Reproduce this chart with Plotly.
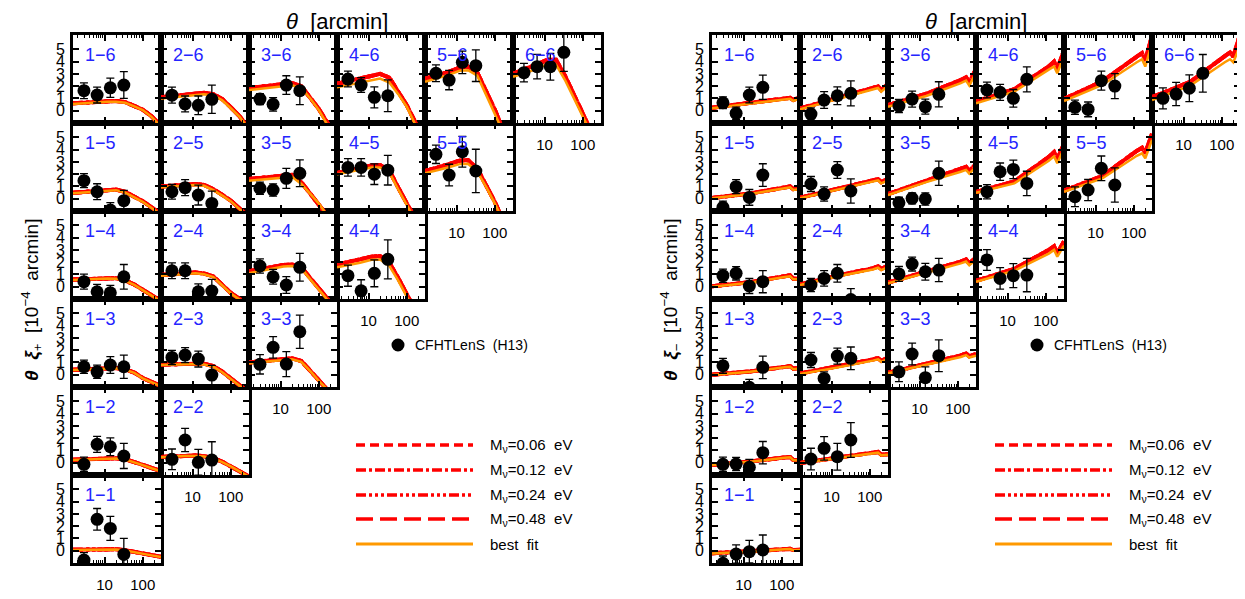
import math
import plotly.graph_objects as go

# ---------------- data ----------------
THETA_DATA = [2.9, 6.4, 14.2, 32.0]                      # arcmin
THETA_XIP_MODEL = [1.5, 3, 6, 12, 20, 35, 60, 100, 170, 300]
THETA_XIM_MODEL = [1.5, 15, 120, 165, 200, 300]
Y_TICKS = [0, 1, 2, 3, 4, 5]
X_TICKS = [10, 100]
X_MINOR = [2, 3, 4, 5, 6, 7, 8, 9, 20, 30, 40, 50, 60, 70, 80, 90, 200, 300]
MNU_LABELS = ["M<sub>ν</sub>=0.06  eV", "M<sub>ν</sub>=0.12  eV",
              "M<sub>ν</sub>=0.24  eV", "M<sub>ν</sub>=0.48  eV", "best  fit"]
DATA_LABEL = "CFHTLenS  (H13)"

XIP_DATA = {
    "1-6": [1.63, 1.28, 1.87, 2.09], "2-6": [1.27, 0.55, 0.44, 0.93],
    "3-6": [0.95, 0.52, 2.09, 1.63], "4-6": [2.58, 2.09, 1.09, 1.22],
    "5-6": [3.05, 2.50, 3.94, 3.67], "6-6": [3.10, 3.59, 3.59, 4.76],
    "1-5": [1.47, 0.57, -0.92, -0.16], "2-5": [0.57, 0.90, 0.30, -0.38],
    "3-5": [0.85, 0.71, 1.66, 2.07], "4-5": [2.55, 2.55, 2.00, 2.33],
    "5-5": [3.62, 1.93, 3.83, 2.26],
    "1-4": [0.41, -0.41, -0.49, 0.81], "2-4": [1.30, 1.30, -0.41, -0.35],
    "3-4": [1.69, 0.81, 0.14, 1.58], "4-4": [0.90, -0.33, 1.09, 2.23],
    "1-3": [0.65, 0.24, 0.79, 0.65], "2-3": [1.41, 1.60, 1.28, -0.03],
    "3-3": [0.85, 2.23, 0.87, 3.50],
    "1-2": [-0.13, 1.50, 1.30, 0.55], "2-2": [0.28, 1.85, 0.03, 0.22],
    "1-1": [-0.76, 2.56, 1.82, -0.30],
}
XIP_ERR = {
    "1-6": [0.64, 0.65, 0.79, 1.09], "2-6": [0.65, 0.65, 0.76, 1.15],
    "3-6": [0.45, 0.55, 0.76, 1.13], "4-6": [0.64, 0.60, 0.86, 1.29],
    "5-6": [0.68, 0.79, 0.92, 1.29], "6-6": [0.75, 1.00, 1.09, 1.56],
    "1-5": [0.57, 0.65, 0.60, 0.84], "2-5": [0.60, 0.65, 0.81, 1.00],
    "3-5": [0.50, 0.50, 0.81, 1.09], "4-5": [0.71, 0.71, 0.84, 1.21],
    "5-5": [0.75, 0.88, 1.25, 1.77],
    "1-4": [0.61, 0.60, 0.60, 1.00], "2-4": [0.64, 0.64, 0.65, 0.95],
    "3-4": [0.58, 0.60, 0.68, 1.13], "4-4": [0.86, 0.90, 1.09, 1.59],
    "1-3": [0.54, 0.54, 0.68, 0.95], "2-3": [0.58, 0.61, 0.65, 0.80],
    "3-3": [0.79, 0.88, 1.02, 1.36],
    "1-2": [0.58, 0.65, 0.72, 1.02], "2-2": [0.84, 0.95, 1.05, 1.49],
    "1-1": [0.60, 0.88, 0.98, 1.30],
}
XIP_FIT = {
    "1-6": [0.55, 0.62, 0.70, 0.74, 0.74, 0.65, 0.35, 0.05, -0.50, -1.30],
    "2-6": [1.00, 1.10, 1.22, 1.30, 1.34, 1.25, 0.85, 0.20, -0.50, -1.50],
    "3-6": [1.69, 1.80, 1.90, 2.00, 2.08, 1.85, 1.00, 0.06, -1.10, -2.50],
    "4-6": [1.91, 2.10, 2.30, 2.50, 2.62, 2.30, 1.35, 0.33, -1.10, -2.80],
    "5-6": [2.36, 2.60, 2.90, 3.25, 3.30, 2.85, 1.30, -0.05, -1.80, -3.50],
    "6-6": [2.77, 3.05, 3.40, 3.80, 3.75, 2.45, 0.95, -0.35, -2.00, -3.50],
    "1-5": [0.44, 0.52, 0.62, 0.70, 0.70, 0.50, 0.15, -0.25, -0.75, -1.30],
    "2-5": [0.93, 1.00, 1.07, 1.12, 1.05, 0.70, 0.25, -0.20, -0.85, -1.50],
    "3-5": [1.47, 1.55, 1.65, 1.75, 1.78, 1.20, 0.40, -0.38, -1.40, -2.50],
    "4-5": [2.00, 2.20, 2.40, 2.55, 2.55, 2.15, 0.75, -0.50, -1.90, -3.20],
    "5-5": [2.08, 2.30, 2.55, 2.82, 2.85, 2.20, 0.95, -0.38, -2.00, -3.50],
    "1-4": [0.55, 0.60, 0.65, 0.68, 0.66, 0.47, 0.15, -0.27, -0.70, -1.20],
    "2-4": [0.90, 0.97, 1.04, 1.09, 1.02, 0.78, 0.10, -0.55, -1.05, -1.60],
    "3-4": [1.10, 1.30, 1.50, 1.65, 1.68, 1.50, 0.60, -0.25, -1.10, -2.00],
    "4-4": [1.58, 1.75, 1.95, 2.20, 2.22, 1.70, 0.50, -0.80, -2.20, -3.50],
    "1-3": [0.38, 0.43, 0.48, 0.52, 0.52, 0.40, 0.15, -0.30, -0.60, -0.95],
    "2-3": [0.79, 0.82, 0.85, 0.87, 0.84, 0.65, 0.20, -0.35, -0.95, -1.50],
    "3-3": [0.93, 1.03, 1.13, 1.22, 1.25, 1.05, 0.30, -0.50, -1.30, -2.00],
    "1-2": [0.22, 0.27, 0.31, 0.35, 0.35, 0.26, 0.05, -0.19, -0.45, -0.70],
    "2-2": [0.44, 0.50, 0.54, 0.55, 0.50, 0.35, 0.05, -0.30, -0.70, -1.15],
    "1-1": [0.06, 0.08, 0.10, 0.11, 0.10, 0.02, -0.10, -0.22, -0.38, -0.52],
}
XIP_MNU = {
    "1-6": [0.60, 0.67, 0.75, 0.80, 0.80, 0.70, 0.40, 0.08, -0.45, -1.25],
    "2-6": [1.10, 1.20, 1.32, 1.42, 1.46, 1.35, 0.95, 0.28, -0.45, -1.45],
    "3-6": [1.85, 1.95, 2.05, 2.15, 2.25, 2.00, 1.10, 0.15, -1.00, -2.40],
    "4-6": [2.20, 2.40, 2.60, 2.85, 3.00, 2.70, 1.60, 0.45, -1.00, -2.70],
    "5-6": [2.60, 2.85, 3.15, 3.50, 3.60, 3.10, 1.50, 0.10, -1.70, -3.40],
    "6-6": [3.00, 3.35, 3.75, 4.15, 4.15, 2.80, 1.20, -0.20, -1.90, -3.40],
    "1-5": [0.48, 0.56, 0.66, 0.75, 0.75, 0.55, 0.20, -0.20, -0.70, -1.25],
    "2-5": [1.00, 1.08, 1.15, 1.20, 1.13, 0.78, 0.32, -0.15, -0.80, -1.45],
    "3-5": [1.60, 1.70, 1.80, 1.90, 1.95, 1.35, 0.50, -0.30, -1.30, -2.40],
    "4-5": [2.10, 2.30, 2.50, 2.70, 2.75, 2.30, 0.90, -0.40, -1.80, -3.10],
    "5-5": [2.25, 2.50, 2.80, 3.10, 3.15, 2.45, 1.10, -0.25, -1.90, -3.40],
    "1-4": [0.58, 0.63, 0.69, 0.72, 0.70, 0.50, 0.18, -0.24, -0.67, -1.17],
    "2-4": [0.95, 1.02, 1.10, 1.15, 1.08, 0.84, 0.15, -0.50, -1.00, -1.55],
    "3-4": [1.25, 1.45, 1.62, 1.78, 1.80, 1.60, 0.70, -0.15, -1.00, -1.90],
    "4-4": [1.80, 2.00, 2.20, 2.45, 2.50, 1.95, 0.70, -0.65, -2.10, -3.40],
    "1-3": [0.40, 0.45, 0.50, 0.55, 0.55, 0.43, 0.18, -0.27, -0.57, -0.92],
    "2-3": [0.84, 0.87, 0.90, 0.93, 0.90, 0.70, 0.25, -0.30, -0.90, -1.45],
    "3-3": [1.00, 1.10, 1.20, 1.30, 1.33, 1.12, 0.37, -0.44, -1.25, -1.95],
    "1-2": [0.24, 0.29, 0.33, 0.37, 0.37, 0.28, 0.07, -0.17, -0.43, -0.68],
    "2-2": [0.47, 0.53, 0.57, 0.58, 0.53, 0.38, 0.08, -0.27, -0.67, -1.12],
    "1-1": [0.08, 0.10, 0.12, 0.13, 0.12, 0.04, -0.08, -0.20, -0.36, -0.50],
}

XIM_DATA = {
    "1-6": [0.65, -0.21, 1.28, 1.91], "2-6": [-0.27, 0.87, 1.22, 1.42],
    "3-6": [0.38, 0.95, 0.33, 1.34], "4-6": [1.69, 1.50, 1.01, 2.56],
    "5-6": [0.28, 0.11, 2.45, 2.01], "6-6": [1.01, 1.36, 1.83, 3.05],
    "1-5": [-0.70, 0.98, 0.11, 1.93], "2-5": [1.20, 0.38, 2.34, 0.63],
    "3-5": [-0.33, 0.03, -0.02, 2.07], "4-5": [0.57, 2.20, 2.39, 1.25],
    "5-5": [0.16, 0.71, 2.48, 1.12],
    "1-4": [0.90, 1.09, 0.06, 0.41], "2-4": [0.14, 0.68, 1.09, -1.05],
    "3-4": [1.04, 1.85, 1.22, 1.36], "4-4": [2.18, 0.68, 0.90, 0.95],
    "1-3": [0.73, -1.55, -1.03, 0.60], "2-3": [1.20, -0.30, 1.52, 1.34],
    "3-3": [0.24, 1.69, -0.24, 1.55],
    "1-2": [-0.13, -0.11, -0.37, 0.82], "2-2": [0.30, 1.17, 0.49, 1.85],
    "1-1": [-1.03, -0.27, -0.08, 0.06],
}
XIM_ERR = {
    "1-6": [0.48, 0.50, 0.64, 0.99], "2-6": [0.50, 0.68, 0.72, 1.02],
    "3-6": [0.54, 0.65, 0.61, 1.02], "4-6": [0.64, 0.65, 0.72, 1.02],
    "5-6": [0.58, 0.60, 0.77, 1.02], "6-6": [0.86, 0.95, 1.09, 1.53],
    "1-5": [0.50, 0.57, 0.64, 0.92], "2-5": [0.61, 0.58, 0.68, 0.99],
    "3-5": [0.45, 0.45, 0.50, 0.99], "4-5": [0.58, 0.71, 0.75, 0.99],
    "5-5": [0.81, 0.87, 1.00, 1.40],
    "1-4": [0.54, 0.54, 0.61, 0.90], "2-4": [0.54, 0.63, 0.72, 0.90],
    "3-4": [0.61, 0.57, 0.68, 0.95], "4-4": [0.84, 0.88, 0.98, 1.36],
    "1-3": [0.61, 0.62, 0.65, 0.91], "2-3": [0.61, 0.54, 0.65, 0.92],
    "3-3": [0.81, 0.88, 0.88, 1.29],
    "1-2": [0.58, 0.54, 0.64, 0.91], "2-2": [0.88, 0.95, 1.09, 1.41],
    "1-1": [0.60, 0.75, 0.92, 1.22],
}
XIM_FIT = {
    "1-6": [0.20, 0.60, 0.93, 0.97, 0.80, 1.00],
    "2-6": [0.11, 0.95, 1.70, 1.85, 1.55, 2.05],
    "3-6": [0.33, 1.20, 2.25, 2.45, 2.05, 3.10],
    "4-6": [0.60, 1.55, 3.35, 3.60, 3.05, 4.46],
    "5-6": [0.79, 2.10, 3.95, 4.20, 3.60, 5.50],
    "6-6": [0.87, 2.05, 3.95, 4.20, 3.95, 5.30],
    "1-5": [0.03, 0.38, 0.85, 0.93, 0.72, 0.80],
    "2-5": [0.03, 0.75, 1.35, 1.50, 1.25, 1.50],
    "3-5": [0.30, 1.35, 2.20, 2.35, 2.05, 2.60],
    "4-5": [0.49, 1.25, 3.10, 3.45, 2.90, 4.10],
    "5-5": [0.57, 1.65, 3.50, 3.70, 3.30, 4.80],
    "1-4": [0.00, 0.33, 0.80, 0.85, 0.60, 0.60],
    "2-4": [0.14, 0.85, 1.40, 1.55, 1.35, 1.60],
    "3-4": [0.27, 1.10, 1.90, 2.05, 1.75, 2.20],
    "4-4": [0.41, 1.30, 2.70, 3.00, 2.45, 3.35],
    "1-3": [-0.02, 0.24, 0.60, 0.65, 0.45, 0.50],
    "2-3": [0.06, 0.60, 1.15, 1.25, 1.05, 1.30],
    "3-3": [0.11, 0.80, 1.45, 1.60, 1.40, 1.55],
    "1-2": [-0.19, 0.08, 0.40, 0.44, 0.20, 0.20],
    "2-2": [-0.05, 0.36, 0.75, 0.82, 0.60, 0.65],
    "1-1": [-0.22, -0.08, 0.12, 0.14, 0.04, 0.06],
}
XIM_MNU = {
    "1-6": [0.25, 0.66, 1.00, 1.05, 0.88, 1.08],
    "2-6": [0.18, 1.03, 1.82, 1.98, 1.68, 2.20],
    "3-6": [0.45, 1.38, 2.50, 2.72, 2.30, 3.40],
    "4-6": [0.75, 1.75, 3.60, 4.00, 3.40, 4.90],
    "5-6": [0.95, 2.40, 4.40, 4.70, 4.10, 6.10],
    "6-6": [1.10, 2.35, 4.45, 4.75, 4.40, 6.20],
    "1-5": [0.06, 0.43, 0.92, 1.00, 0.78, 0.86],
    "2-5": [0.08, 0.82, 1.45, 1.60, 1.35, 1.62],
    "3-5": [0.38, 1.47, 2.40, 2.60, 2.25, 2.85],
    "4-5": [0.55, 1.40, 3.40, 3.80, 3.20, 4.50],
    "5-5": [0.65, 1.85, 3.90, 4.15, 3.70, 5.30],
    "1-4": [0.03, 0.37, 0.86, 0.92, 0.66, 0.66],
    "2-4": [0.18, 0.92, 1.50, 1.66, 1.45, 1.72],
    "3-4": [0.33, 1.20, 2.05, 2.22, 1.90, 2.40],
    "4-4": [0.48, 1.45, 3.00, 3.30, 2.70, 3.70],
    "1-3": [0.00, 0.27, 0.64, 0.70, 0.50, 0.55],
    "2-3": [0.10, 0.66, 1.24, 1.35, 1.13, 1.40],
    "3-3": [0.15, 0.88, 1.57, 1.73, 1.50, 1.70],
    "1-2": [-0.17, 0.10, 0.43, 0.47, 0.23, 0.23],
    "2-2": [-0.02, 0.40, 0.80, 0.88, 0.65, 0.70],
    "1-1": [-0.21, -0.07, 0.13, 0.15, 0.05, 0.07],
}

# ---------------- layout / style ----------------
PAGE_W, PAGE_H = 1245, 599
BODY_MARGIN = 8                      # default page margin around the plot div
FW, FH = PAGE_W - BODY_MARGIN, PAGE_H - BODY_MARGIN
FONT = "Liberation Sans, Arial, sans-serif"
RED = "#ff0000"
ORANGE = "#ff9900"
BLUE = "#2424ff"
RED_DASHES = ["9px,5px", "10px,3px,3px,3px",
              "10px,3px,3px,3px,3px,3px,3px,3px", "17px,7px"]
PANEL = 88
TOP = 35
GRID_LEFT = [73, 712]
Y_RANGE = [-1.0, 6.17]
X_RANGE = [math.log10(1.5), math.log10(300)]


def px(x):
    """page pixel x -> paper coordinate"""
    return min(1.0, max(0.0, (x - BODY_MARGIN) / FW))


def py(y):
    """page pixel y -> paper coordinate"""
    return min(1.0, max(0.0, 1 - (y - BODY_MARGIN) / FH))


fig = go.Figure()
layout = {}
annotations = []
shapes = []

grids = [
    (GRID_LEFT[0], XIP_DATA, XIP_ERR, XIP_FIT, XIP_MNU, THETA_XIP_MODEL),
    (GRID_LEFT[1], XIM_DATA, XIM_ERR, XIM_FIT, XIM_MNU, THETA_XIM_MODEL),
]

n = 0
for (gleft, dat, err, fit, mnu, thm) in grids:
    for j in range(1, 7):
        for i in range(1, j + 1):
            n += 1
            key = f"{i}-{j}"
            c = i - 1
            r = 6 - j
            x0 = gleft + PANEL * c
            y0 = TOP + PANEL * r
            xref = "x" if n == 1 else f"x{n}"
            yref = "y" if n == 1 else f"y{n}"
            xname = "xaxis" if n == 1 else f"xaxis{n}"
            yname = "yaxis" if n == 1 else f"yaxis{n}"

            for k, dash in enumerate(RED_DASHES):
                fig.add_trace(go.Scatter(
                    x=thm, y=mnu[key], mode="lines", xaxis=xref, yaxis=yref,
                    line=dict(color=RED, width=4, dash=dash),
                    showlegend=False, hoverinfo="skip"))
            fig.add_trace(go.Scatter(
                x=thm, y=fit[key], mode="lines", xaxis=xref, yaxis=yref,
                line=dict(color=ORANGE, width=2.5),
                showlegend=False, hoverinfo="skip"))
            fig.add_trace(go.Scatter(
                x=THETA_DATA, y=dat[key], mode="markers",
                xaxis=xref, yaxis=yref,
                marker=dict(color="black", size=13),
                error_y=dict(type="data", array=err[key], color="black",
                             thickness=1.3, width=4),
                showlegend=False))

            layout[xname] = dict(
                type="log", range=X_RANGE, anchor=yref,
                domain=[px(x0), px(x0 + PANEL)],
                showline=True, linecolor="black", linewidth=3,
                mirror="allticks", ticks="inside", ticklen=6, tickwidth=1.5,
                tickcolor="black", tickmode="array", tickvals=X_TICKS,
                ticktext=[str(v) for v in X_TICKS],
                showticklabels=(i == j), ticklabelstandoff=6,
                tickfont=dict(family=FONT, size=15, color="black"),
                showgrid=False, zeroline=False,
                minor=dict(ticks="inside", ticklen=3, tickwidth=1.2,
                           tickcolor="black", tickmode="array",
                           tickvals=X_MINOR, showgrid=False),
            )
            layout[yname] = dict(
                range=Y_RANGE, anchor=xref,
                domain=[py(y0 + PANEL), py(y0)],
                showline=True, linecolor="black", linewidth=3,
                mirror="allticks", ticks="inside", ticklen=6, tickwidth=1.5,
                tickcolor="black", tickmode="array", tickvals=Y_TICKS,
                ticktext=[str(v) for v in Y_TICKS],
                showticklabels=(c == 0), tickangle=0,
                ticklabelstandoff=2,
                tickfont=dict(family=FONT, size=16, color="black"),
                showgrid=False, zeroline=False,
            )
            annotations.append(dict(
                text=key.replace("-", "−"), xref="paper", yref="paper",
                x=px(x0 + 10), y=py(y0 + 20), xanchor="left", yanchor="middle",
                showarrow=False, font=dict(family=FONT, size=18, color=BLUE)))

# titles and legends
for gi, gleft in enumerate(GRID_LEFT):
    cx = gleft + 3 * PANEL
    annotations.append(dict(
        text="<i>θ</i>  [arcmin]", xref="paper", yref="paper",
        x=px(cx), y=py(21), xanchor="center", yanchor="middle",
        showarrow=False, font=dict(family=FONT, size=22, color="black")))
    sub = "+" if gi == 0 else "−"
    annotations.append(dict(
        text=f"<b><i>θ  ξ</i></b><sub>{sub}</sub>  [10<sup>−4</sup>  arcmin]",
        xref="paper", yref="paper", x=px(gleft - 42), y=py(300),
        xanchor="center", yanchor="middle", textangle=-90,
        showarrow=False, font=dict(family=FONT, size=19, color="black")))

    # data legend
    mx, my = (398, 345) if gi == 0 else (1037, 345)
    shapes.append(dict(type="circle", xref="paper", yref="paper",
                       x0=px(mx - 6.5), x1=px(mx + 6.5),
                       y0=py(my + 6.5), y1=py(my - 6.5),
                       fillcolor="black", line=dict(color="black", width=0)))
    annotations.append(dict(
        text=DATA_LABEL, xref="paper", yref="paper", x=px(mx + 15), y=py(my),
        xanchor="left", yanchor="middle", showarrow=False,
        font=dict(family=FONT, size=14, color="black")))

    # model legend
    lx0 = 356 if gi == 0 else 995
    rows_y = [445, 470, 495, 519, 544]
    for k, label in enumerate(MNU_LABELS):
        if k < 4:
            ln = dict(color=RED, width=3.5, dash=RED_DASHES[k])
        else:
            ln = dict(color=ORANGE, width=3)
        shapes.append(dict(type="line", xref="paper", yref="paper",
                           x0=px(lx0), x1=px(lx0 + 117),
                           y0=py(rows_y[k]), y1=py(rows_y[k]), line=ln))
        annotations.append(dict(
            text=label, xref="paper", yref="paper", x=px(lx0 + 132),
            y=py(rows_y[k]), xanchor="left", yanchor="middle",
            showarrow=False, font=dict(family=FONT, size=15, color="black")))

fig.update_layout(
    width=FW, height=FH, margin=dict(l=0, r=0, t=0, b=0),
    paper_bgcolor="white", plot_bgcolor="white",
    showlegend=False, annotations=annotations, shapes=shapes, **layout)

fig.write_html("out.html")
